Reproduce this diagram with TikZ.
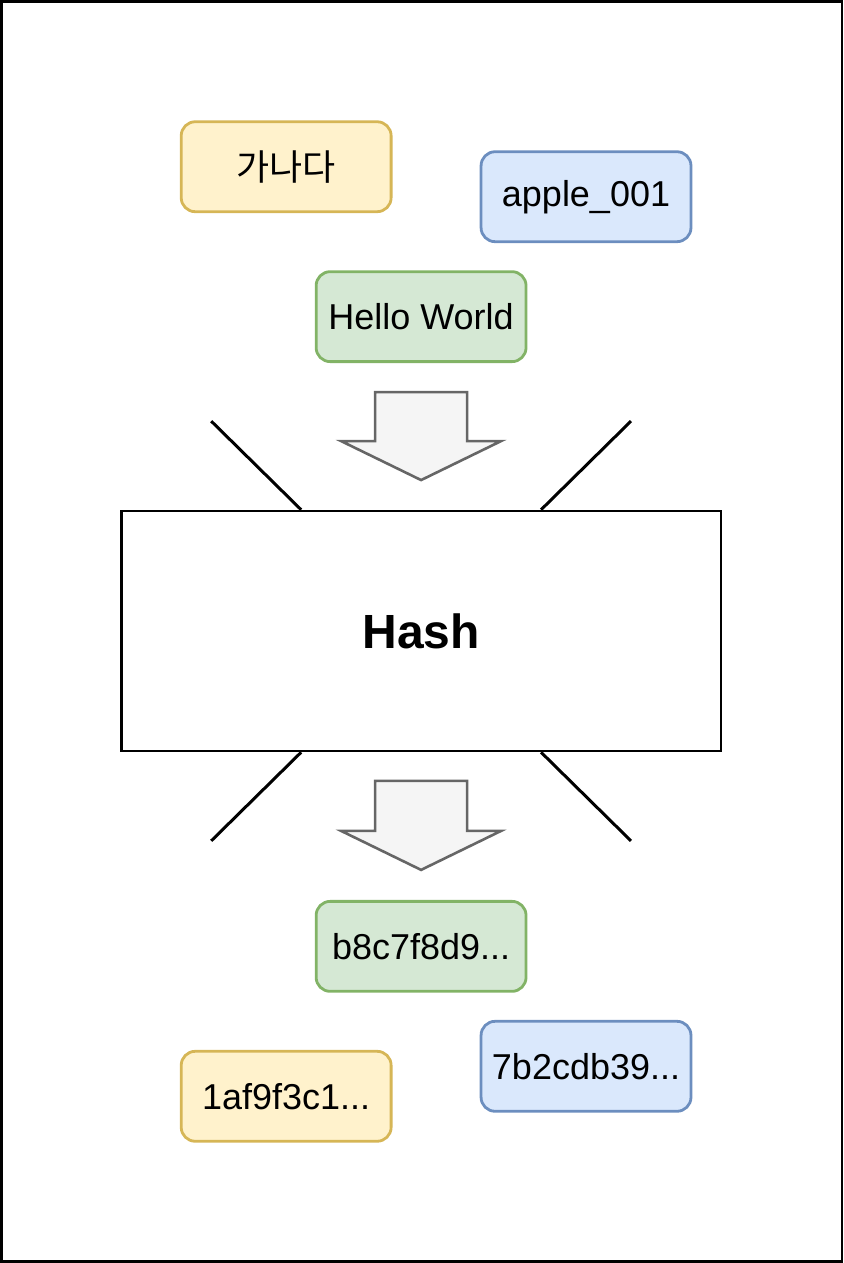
\documentclass[tikz,border=0pt]{standalone}
\usepackage{fontspec}
\setmainfont{Liberation Sans}
\newfontfamily\kofont{Noto Sans CJK KR}
\usepackage{xcolor}
\usetikzlibrary{positioning}
\definecolor{yelfill}{HTML}{FFF2CC}
\definecolor{yeldraw}{HTML}{D6B656}
\definecolor{bluefill}{HTML}{DAE8FC}
\definecolor{bluedraw}{HTML}{6C8EBF}
\definecolor{greenfill}{HTML}{D5E8D4}
\definecolor{greendraw}{HTML}{82B366}
\definecolor{arrowfill}{HTML}{F5F5F5}
\definecolor{arrowdraw}{HTML}{666666}

\begin{document}
\begin{tikzpicture}[
    x=0.5pt, y=-0.5pt,
    val/.style={rounded corners=7pt, line width=1.4pt, minimum width=105pt, minimum height=45pt, font=\fontsize{18}{21}\selectfont},
    yel/.style={val, fill=yelfill, draw=yeldraw},
    blu/.style={val, fill=bluefill, draw=bluedraw},
    grn/.style={val, fill=greenfill, draw=greendraw},
    bigarrow/.style={fill=arrowfill, draw=arrowdraw, line width=1.3pt, line join=miter},
    slant/.style={line width=1.5pt}
]
\draw[line width=1.3pt] (1,1) rectangle (842,1262);

% inputs
\node[yel] (in1) at (286,166.5) {\kofont 가나다};
\node[blu] (in2) at (586,196.5) {apple\_001};
\node[grn] (in3) at (421,316.5) {Hello World};

% hash function
\node[draw, line width=1.3pt, minimum width=300pt, minimum height=120pt, font=\bfseries\fontsize{24}{28}\selectfont] (hash) at (421,631) {Hash};

% outputs
\node[grn] (out3) at (421,946.5) {b8c7f8d9...};
\node[blu] (out2) at (586,1066.5) {7b2cdb39...};
\node[yel] (out1) at (286,1096.5) {1af9f3c1...};

% arrows
\draw[bigarrow] (375,392) -- (467,392) -- (467,441) -- (501,441) -- (421,480) -- (341,441) -- (375,441) -- cycle;
\draw[bigarrow] (375,781) -- (467,781) -- (467,831) -- (501,831) -- (421,870) -- (341,831) -- (375,831) -- cycle;

% funnel lines
\coordinate (tl) at (211,421);
\coordinate (tr) at (631,421);
\coordinate (bl) at (211,841);
\coordinate (br) at (631,841);
\draw[slant] (tl) -- (hash.north west -| 301,0);
\draw[slant] (tr) -- (hash.north west -| 541,0);
\draw[slant] (bl) -- (hash.south west -| 301,0);
\draw[slant] (br) -- (hash.south west -| 541,0);
\end{tikzpicture}
\end{document}
